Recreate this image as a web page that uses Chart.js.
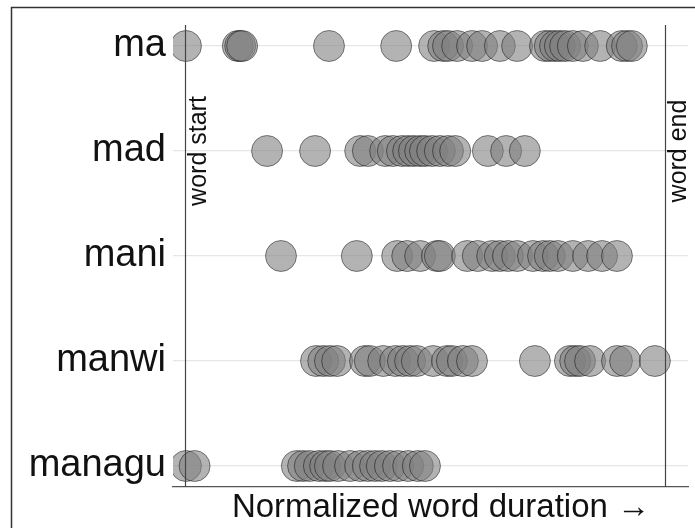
<!DOCTYPE html>
<html>
<head>
<meta charset="utf-8">
<script src="https://cdn.jsdelivr.net/npm/chart.js@4"></script>
<style>
  html, body { margin: 0; padding: 0; background: #fff; }
  #wrap { width: 695px; height: 528px; }
</style>
</head>
<body>
<div id="wrap"><canvas id="c" width="695" height="528"></canvas></div>
<script>
// Categories (top to bottom)
const words = ["ma", "mad", "mani", "manwi", "managu"];

// Normalized positions within the word (0 = word start, 1 = word end)
const maVals = [0.002, 0.110, 0.115, 0.119, 0.300, 0.440, 0.519, 0.538, 0.548, 0.567, 0.598, 0.619, 0.656, 0.692, 0.750, 0.760, 0.771, 0.781, 0.792, 0.808, 0.829, 0.865, 0.910, 0.921, 0.931];
const madVals = [0.171, 0.271, 0.365, 0.381, 0.417, 0.433, 0.452, 0.465, 0.477, 0.490, 0.500, 0.515, 0.531, 0.548, 0.563, 0.631, 0.669, 0.708];
const maniVals = [0.200, 0.358, 0.442, 0.463, 0.490, 0.525, 0.531, 0.588, 0.610, 0.640, 0.656, 0.673, 0.692, 0.725, 0.746, 0.760, 0.777, 0.808, 0.840, 0.869, 0.900];
const manwiVals = [0.273, 0.288, 0.302, 0.317, 0.375, 0.385, 0.413, 0.438, 0.454, 0.469, 0.483, 0.517, 0.546, 0.556, 0.579, 0.598, 0.729, 0.802, 0.813, 0.823, 0.844, 0.900, 0.917, 0.979];
const managuVals = [0.002, 0.020, 0.233, 0.246, 0.260, 0.279, 0.292, 0.302, 0.319, 0.344, 0.365, 0.381, 0.396, 0.410, 0.427, 0.444, 0.465, 0.485, 0.500];

const seriesVals = [maVals, madVals, maniVals, manwiVals, managuVals];

// Boundary markers and their labels
const boundaryVals = [0, 1];
const boundaryLabels = ["word start", "word end"];
const xTitle = "Normalized word duration \u2192";

const FONT = '"Liberation Sans", Arial, Helvetica, sans-serif';

const datasets = words.map((w, i) => ({
  label: w,
  data: seriesVals[i].map(v => ({ x: v, y: i })),
  backgroundColor: 'rgba(128,128,128,0.6)',
  borderColor: 'rgba(0,0,0,0.45)',
  borderWidth: 1,
  pointRadius: 15.5,
  pointHoverRadius: 15.5
}));

const overlay = {
  id: 'overlay',
  afterDatasetsDraw(chart) {
    const { ctx, chartArea, scales } = chart;
    const x = scales.x;
    ctx.save();
    // boundary lines
    ctx.strokeStyle = '#444';
    ctx.lineWidth = 1.2;
    boundaryVals.forEach((v, i) => {
      const px = Math.round(x.getPixelForValue(v)) + 0.5;
      ctx.beginPath();
      ctx.moveTo(px, chartArea.top);
      ctx.lineTo(px, chartArea.bottom);
      ctx.stroke();
      // rotated label
      ctx.save();
      ctx.translate(px + 20, scales.y.getPixelForValue(1));
      ctx.rotate(-Math.PI / 2);
      ctx.fillStyle = '#111';
      ctx.font = '25px ' + FONT;
      ctx.textAlign = 'center';
      ctx.textBaseline = 'alphabetic';
      ctx.fillText(boundaryLabels[i], 0, 0);
      ctx.restore();
    });
    // x-axis title
    ctx.fillStyle = '#111';
    ctx.font = '33px ' + FONT;
    ctx.textAlign = 'center';
    ctx.textBaseline = 'alphabetic';
    ctx.fillText(xTitle, (x.getPixelForValue(0) + x.getPixelForValue(1)) / 2 + 16, 517);
    ctx.restore();
  },
  afterDraw(chart) {
    const { ctx } = chart;
    ctx.save();
    ctx.strokeStyle = '#333';
    ctx.lineWidth = 1.5;
    ctx.beginPath();
    ctx.moveTo(11.5, 528);
    ctx.lineTo(11.5, 7.5);
    ctx.lineTo(695, 7.5);
    ctx.stroke();
    ctx.restore();
  }
};

new Chart(document.getElementById('c'), {
  type: 'scatter',
  data: { datasets },
  options: {
    responsive: false,
    animation: false,
    events: [],
    layout: { autoPadding: false, padding: { top: 25, right: 7, left: 0, bottom: 0 } },
    plugins: { legend: { display: false }, tooltip: { enabled: false } },
    scales: {
      x: {
        type: 'linear',
        min: -0.025,
        max: 1.048,
        grid: { display: false, drawTicks: false },
        border: { display: true, color: '#555', width: 1.2 },
        ticks: { display: false },
        title: { display: false, text: xTitle },
        afterFit(scale) { scale.height = 41; scale.paddingLeft = 0; scale.paddingRight = 0; }
      },
      y: {
        type: 'linear',
        reverse: true,
        min: -0.2,
        max: 4.2,
        afterBuildTicks(scale) {
          scale.ticks = words.map((_, i) => ({ value: i }));
        },
        grid: { color: '#e6e6e6', lineWidth: 1.2, drawTicks: false },
        border: { display: false },
        ticks: {
          color: '#111',
          padding: 7,
          font: { family: FONT, size: 38 },
          callback: (v) => words[v]
        },
        afterFit(scale) { scale.width = 173; scale.paddingTop = 0; scale.paddingBottom = 0; }
      }
    }
  },
  plugins: [overlay]
});
</script>
</body>
</html>
